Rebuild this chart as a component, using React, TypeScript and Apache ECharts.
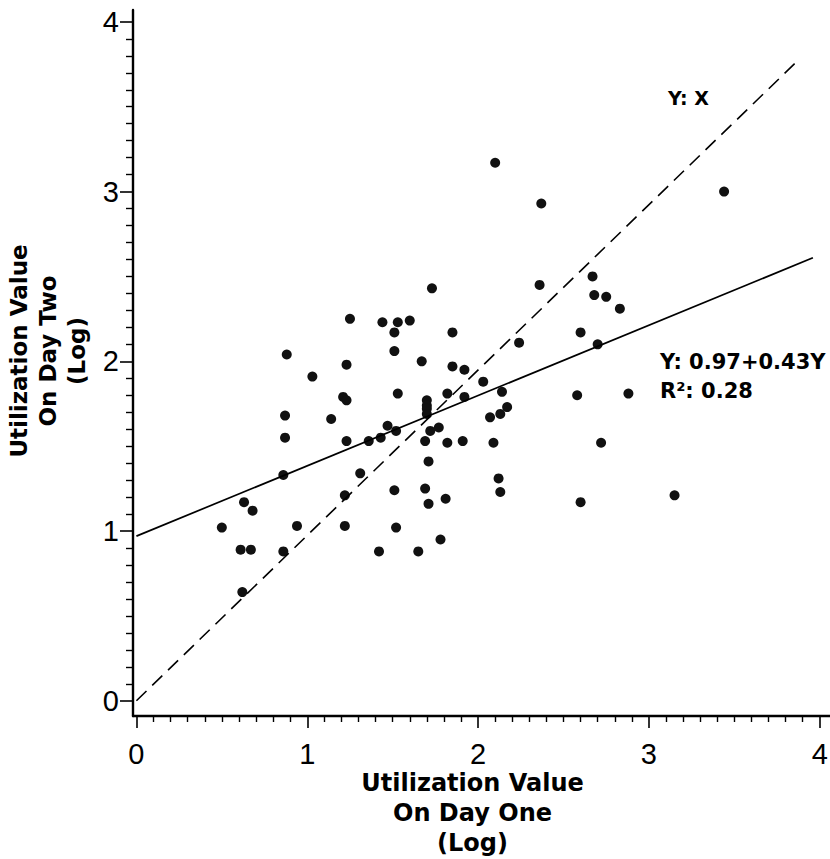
import React, { useEffect, useRef } from "react";
import * as echarts from "echarts";

// Utilization value on day one (log) — x
const dayOne = [
  1.73, 1.25, 1.44, 1.53, 1.6, 1.51, 1.51, 1.85, 0.88, 1.23,
  1.67, 1.85, 1.92, 1.03, 1.21, 1.23, 1.53, 1.7, 1.7, 1.7,
  1.7, 1.82, 0.87, 1.14, 0.87, 1.23, 1.36, 1.43, 1.47, 1.52,
  1.72, 1.77, 1.69, 1.82, 0.86, 1.31, 1.71, 0.63, 0.68, 1.22,
  1.51, 1.69, 1.81, 1.71, 0.5, 0.94, 1.22, 1.52, 0.61, 0.67,
  0.86, 1.42, 1.65, 1.78, 0.62, 2.03, 2.24, 2.14, 1.92, 2.17,
  2.13, 2.07, 1.91, 2.09, 2.12, 2.13, 2.1, 2.37, 2.36, 2.67,
  2.68, 2.75, 2.83, 2.6, 2.7, 2.58, 2.88, 2.72, 2.6, 3.15, 3.44,
];
// Utilization value on day two (log) — y
const dayTwo = [
  2.43, 2.25, 2.23, 2.23, 2.24, 2.17, 2.06, 2.17, 2.04, 1.98,
  2.0, 1.97, 1.95, 1.91, 1.79, 1.77, 1.81, 1.77, 1.74, 1.72,
  1.69, 1.81, 1.68, 1.66, 1.55, 1.53, 1.53, 1.55, 1.62, 1.59,
  1.59, 1.61, 1.53, 1.52, 1.33, 1.34, 1.41, 1.17, 1.12, 1.21,
  1.24, 1.25, 1.19, 1.16, 1.02, 1.03, 1.03, 1.02, 0.89, 0.89,
  0.88, 0.88, 0.88, 0.95, 0.64, 1.88, 2.11, 1.82, 1.79, 1.73,
  1.69, 1.67, 1.53, 1.52, 1.31, 1.23, 3.17, 2.93, 2.45, 2.5,
  2.39, 2.38, 2.31, 2.17, 2.1, 1.8, 1.81, 1.52, 1.17, 1.21, 3.0,
];

// Reference lines as drawn on the plot
const identityLine = [
  [0, 0],
  [3.88, 3.78],
];
const fitLine = [
  [0, 0.97],
  [3.96, 2.61],
];

const majorTicks = [0, 1, 2, 3, 4];
const minorTicks: number[] = [];
for (let i = 1; i < 40; i++) {
  if (i % 10 !== 0) minorTicks.push(i / 10);
}

const xTitle = "Utilization Value\nOn Day One\n(Log)";
const yTitle = "Utilization Value\nOn Day Two\n(Log)";
const identityLabel = "Y: X";
const fitLabel = "Y: 0.97+0.43Y";
const r2Label = "R²: 0.28";

export default function App() {
  const ref = useRef<HTMLDivElement>(null);

  useEffect(() => {
    if (!ref.current) return;
    const chart = echarts.init(ref.current, undefined, { renderer: "svg" });

    const points = dayOne.map((x, i) => [x, dayTwo[i]]);
    const tickFont = "'Liberation Sans', Arial, sans-serif";
    const titleFont = "'DejaVu Sans', sans-serif";
    const black = "#000";

    const xMin = -0.02;
    const xMax = 4.06;
    const yMin = -0.09;
    const yMax = 4.07;

    const option: any = {
      animation: false,
      backgroundColor: "#ffffff",
      grid: {
        left: 133,
        right: 0,
        top: 10,
        bottom: 143,
        containLabel: false,
        outerBoundsMode: "none",
      },
      xAxis: [
        {
          type: "value",
          position: "bottom",
          min: xMin,
          max: xMax,
          axisLine: { show: true, onZero: false, lineStyle: { color: black, width: 2.4 } },
          axisTick: {
            show: true,
            customValues: majorTicks,
            length: 12,
            lineStyle: { color: black, width: 1.6 },
          },
          axisLabel: {
            show: true,
            customValues: majorTicks,
            margin: 23,
            fontSize: 29,
            color: black,
            fontFamily: tickFont,
          },
          splitLine: { show: false },
          name: xTitle,
          nameLocation: "middle",
          nameGap: 52,
          nameMoveOverlap: false,
          nameTextStyle: {
            fontFamily: titleFont,
            fontWeight: "bold",
            fontSize: 24,
            lineHeight: 30,
            color: black,
            padding: [0, 18, 0, 0],
          },
        },
        {
          type: "value",
          position: "bottom",
          min: xMin,
          max: xMax,
          axisLine: { show: false, onZero: false },
          axisTick: {
            show: true,
            customValues: minorTicks,
            length: 6,
            lineStyle: { color: black, width: 1.4 },
          },
          axisLabel: { show: false },
          splitLine: { show: false },
        },
      ],
      yAxis: [
        {
          type: "value",
          position: "left",
          min: yMin,
          max: yMax,
          axisLine: { show: true, onZero: false, lineStyle: { color: black, width: 2.4 } },
          axisTick: {
            show: true,
            customValues: majorTicks,
            length: 13,
            lineStyle: { color: black, width: 1.6 },
          },
          axisLabel: {
            show: true,
            customValues: majorTicks,
            margin: 14,
            fontSize: 29,
            color: black,
            fontFamily: tickFont,
          },
          splitLine: { show: false },
          name: yTitle,
          nameLocation: "middle",
          nameRotate: 90,
          nameGap: 40,
          nameTextStyle: {
            fontFamily: titleFont,
            fontWeight: "bold",
            fontSize: 23,
            lineHeight: 29,
            color: black,
            padding: [0, 0, 0, 24],
          },
        },
        {
          type: "value",
          position: "left",
          min: yMin,
          max: yMax,
          axisLine: { show: false, onZero: false },
          axisTick: {
            show: true,
            customValues: minorTicks,
            length: 7,
            lineStyle: { color: black, width: 1.4 },
          },
          axisLabel: { show: false },
          splitLine: { show: false },
        },
      ],
      series: [
        {
          name: "Y=X",
          type: "line",
          xAxisIndex: 0,
          yAxisIndex: 0,
          data: identityLine,
          showSymbol: false,
          symbol: "none",
          lineStyle: { color: black, width: 1.6, type: [14, 8] },
          silent: true,
        },
        {
          name: "Fit",
          type: "line",
          xAxisIndex: 0,
          yAxisIndex: 0,
          data: fitLine,
          showSymbol: false,
          symbol: "none",
          lineStyle: { color: black, width: 1.7 },
          silent: true,
        },
        {
          name: "Utilization",
          type: "scatter",
          xAxisIndex: 0,
          yAxisIndex: 0,
          data: points,
          symbol: "circle",
          symbolSize: 10,
          itemStyle: { color: "#111", opacity: 1 },
        },
      ],
      graphic: [
        {
          type: "text",
          left: 668,
          top: 88,
          style: {
            text: identityLabel,
            fontFamily: titleFont,
            fontWeight: "bold",
            fontSize: 19,
            fill: black,
          },
        },
        {
          type: "text",
          left: 660,
          top: 351,
          style: {
            text: fitLabel,
            fontFamily: titleFont,
            fontWeight: "bold",
            fontSize: 21,
            fill: black,
          },
        },
        {
          type: "text",
          left: 660,
          top: 380,
          style: {
            text: r2Label,
            fontFamily: titleFont,
            fontWeight: "bold",
            fontSize: 21,
            fill: black,
          },
        },
      ],
    };

    chart.setOption(option);
    return () => {
      chart.dispose();
    };
  }, []);

  return (
    <div
      ref={ref}
      style={{ position: "fixed", left: 0, top: 0, width: 830, height: 859, background: "#fff" }}
    />
  );
}
